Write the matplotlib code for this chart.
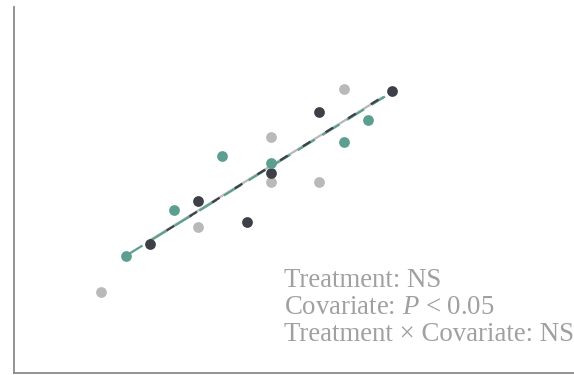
import matplotlib
matplotlib.use("Agg")
import numpy as np
import matplotlib.pyplot as plt

plt.rcParams['font.family'] = ['Liberation Serif', 'DejaVu Serif']
plt.rcParams['mathtext.fontset'] = 'custom'
plt.rcParams['mathtext.it'] = 'Liberation Serif:italic'
plt.rcParams['mathtext.rm'] = 'Liberation Serif'

# covariate (x) and response (y) for the three treatment groups
gray_x = [1, 5, 8, 8, 10, 11]
gray_y = [2.0, 5.25, 9.75, 7.5, 7.5, 12.15]
dark_x = [3, 5, 7, 8, 10, 13]
dark_y = [4.4, 6.55, 5.5, 7.95, 11.0, 12.05]
teal_x = [2, 4, 6, 8, 11, 12]
teal_y = [3.8, 6.1, 8.8, 8.45, 9.5, 10.6]

# fitted lines: (x start, x end, intercept, slope)
gray_fit = (3.0, 12.6, 2.35, 0.745)
dark_fit = (3.0, 12.8, 2.30, 0.75)
teal_fit = (2.0, 12.7, 2.31, 0.745)

stats_lines = ["Treatment: NS",
               "Covariate: $P$ < 0.05",
               "Treatment × Covariate: NS"]

GRAY = "#b9b9b9"
DARK = "#3d4047"
TEAL = "#5c9f90"

fig = plt.figure(figsize=(5.74, 3.75), dpi=100)
ax = fig.add_axes([14 / 574, 2 / 375, 1 - 14 / 574, 366 / 375])

ax.scatter(gray_x, gray_y, s=60, color=GRAY, zorder=3, linewidths=0)
ax.scatter(dark_x, dark_y, s=60, color=DARK, zorder=3, linewidths=0)
ax.scatter(teal_x, teal_y, s=60, color=TEAL, zorder=3, linewidths=0)


def fit_line(fit):
    x0, x1, b, m = fit
    xs = np.array([x0, x1])
    return xs, b + m * xs


xs, ys = fit_line(gray_fit)
ax.plot(xs, ys, color=GRAY, lw=1.6, zorder=2)
xs, ys = fit_line(teal_fit)
ax.plot(xs, ys, color=TEAL, lw=1.6, zorder=2, ls=(0, (9, 4)))
xs, ys = fit_line(dark_fit)
ax.plot(xs, ys, color=DARK, lw=1.6, ls=(3, (4, 8)), zorder=2)

ax.set_xlim(-2.6, 20.5)
ax.set_ylim(-2.05, 16.25)
ax.set_xticks([])
ax.set_yticks([])
for side in ("top", "right"):
    ax.spines[side].set_visible(False)
for side in ("left", "bottom"):
    ax.spines[side].set_color("#8a8a8a")
    ax.spines[side].set_linewidth(1.3)

for i, line in enumerate(stats_lines):
    fig.text(284 / 574, (375 - 287 - 27 * i) / 375, line,
             fontsize=19.3, color="#a0a0a0", va="baseline", ha="left")

fig.savefig("out.png", dpi=100)
